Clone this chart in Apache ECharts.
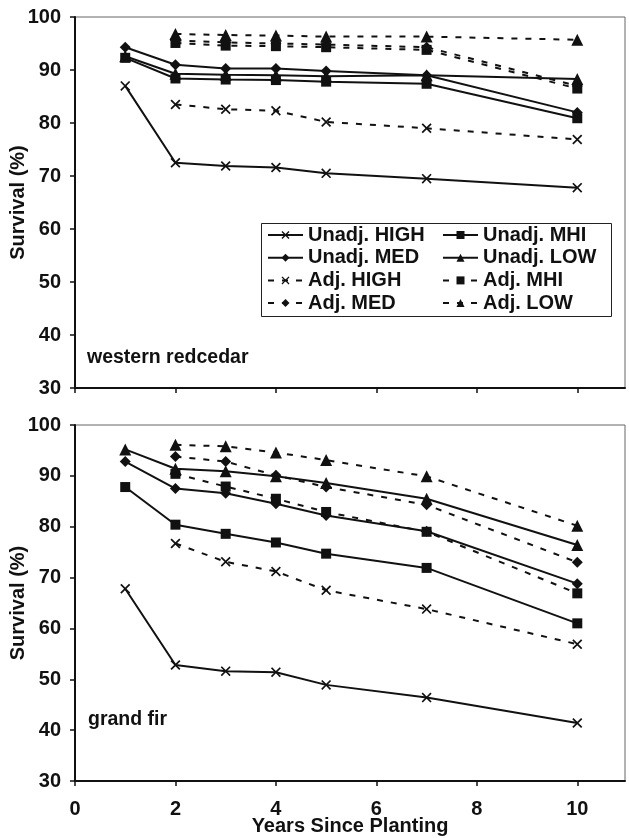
<!DOCTYPE html>
<html><head><meta charset="utf-8">
<script src="https://cdn.jsdelivr.net/npm/echarts@6/dist/echarts.min.js"></script>
<style>html,body{margin:0;padding:0;background:#fff}#c{width:629px;height:838px}</style>
</head><body><div id="c"></div>
<script>
const years = [1, 2, 3, 4, 5, 7, 10];
const adjYears = [2, 3, 4, 5, 7, 10];
const seriesNames = ['Unadj. HIGH','Unadj. MHI','Unadj. MED','Unadj. LOW','Adj. HIGH','Adj. MHI','Adj. MED','Adj. LOW'];
const yTicks = [30, 40, 50, 60, 70, 80, 90, 100];
const xTicks = [0, 2, 4, 6, 8, 10];
const panelTitles = ['western redcedar', 'grand fir'];

// western redcedar
const wrcUnadjHigh = [87.0, 72.5, 71.9, 71.6, 70.5, 69.5, 67.8];
const wrcUnadjMhi  = [92.3, 88.4, 88.2, 88.1, 87.8, 87.4, 80.9];
const wrcUnadjMed  = [94.3, 91.0, 90.3, 90.3, 89.8, 89.0, 82.0];
const wrcUnadjLow  = [92.6, 89.3, 89.1, 89.0, 88.8, 89.0, 88.3];
const wrcAdjHigh = [83.5, 82.6, 82.3, 80.2, 79.0, 76.9];
const wrcAdjMhi  = [95.1, 94.6, 94.5, 94.3, 93.8, 86.5];
const wrcAdjMed  = [95.6, 95.2, 95.0, 94.8, 94.3, 87.0];
const wrcAdjLow  = [96.8, 96.6, 96.5, 96.3, 96.3, 95.7];

// grand fir
const gfUnadjHigh = [67.8, 52.8, 51.6, 51.4, 48.9, 46.4, 41.4];
const gfUnadjMhi  = [87.8, 80.4, 78.6, 76.9, 74.7, 71.9, 61.0];
const gfUnadjMed  = [92.8, 87.5, 86.6, 84.5, 82.2, 79.1, 68.8];
const gfUnadjLow  = [95.2, 91.4, 90.9, 89.9, 88.6, 85.5, 76.4];
const gfAdjHigh = [76.7, 73.1, 71.2, 67.5, 63.8, 56.9];
const gfAdjMhi  = [90.4, 87.9, 85.5, 82.9, 79.0, 66.9];
const gfAdjMed  = [93.8, 92.8, 90.1, 87.8, 84.3, 73.0];
const gfAdjLow  = [96.1, 95.8, 94.6, 93.1, 89.9, 80.2];

const XSYM = 'path://M0,1.2L1.2,0L5,3.8L8.8,0L10,1.2L6.2,5L10,8.8L8.8,10L5,6.2L1.2,10L0,8.8L3.8,5Z';
const sym = {HIGH: XSYM, MHI: 'rect', MED: 'diamond', LOW: 'triangle'};
const symSize = {HIGH: 10, MHI: 10, MED: 11, LOW: 12};

function pair(xs, ys) { return xs.map((x, i) => [x, ys[i]]); }
function mk(name, xs, ys, idx) {
  const key = name.split(' ')[1];
  const adj = name.startsWith('Adj');
  return {
    name: name, type: 'line', xAxisIndex: idx, yAxisIndex: idx,
    data: pair(xs, ys), symbol: sym[key], symbolSize: symSize[key],
    showAllSymbol: true, animation: false,
    lineStyle: {color: '#111', width: 2, type: adj ? [6, 8] : 'solid'},
    itemStyle: {color: '#111'}
  };
}
const panels = [
  [wrcUnadjHigh, wrcUnadjMhi, wrcUnadjMed, wrcUnadjLow, wrcAdjHigh, wrcAdjMhi, wrcAdjMed, wrcAdjLow],
  [gfUnadjHigh, gfUnadjMhi, gfUnadjMed, gfUnadjLow, gfAdjHigh, gfAdjMhi, gfAdjMed, gfAdjLow]
];
const series = [];
panels.forEach((p, idx) => {
  seriesNames.forEach((n, i) => series.push(mk(n, i < 4 ? years : adjYears, p[i], idx)));
});

const FONT = 'Liberation Sans, Arial, sans-serif';
const grids = [
  {left: 75, top: 17, width: 550, height: 371},
  {left: 75, top: 425, width: 550, height: 356}
];
function xAx(idx) {
  return {
    type: 'value', gridIndex: idx, min: xTicks[0], max: 10.95, interval: 2,
    axisLine: {lineStyle: {color: '#111', width: 2}},
    axisTick: {length: 5, customValues: xTicks, lineStyle: {color: '#111', width: 1.5}},
    splitLine: {show: false},
    axisLabel: {show: idx === 1, customValues: xTicks, margin: 18, color: '#111', fontFamily: FONT, fontWeight: 'bold', fontSize: 20},
    name: idx === 1 ? 'Years Since Planting' : '', nameLocation: 'middle', nameGap: 35, nameMoveOverlap: false,
    nameTextStyle: {color: '#111', fontFamily: FONT, fontWeight: 'bold', fontSize: 20, verticalAlign: 'top'}
  };
}
function yAx(idx) {
  return {
    type: 'value', gridIndex: idx, min: yTicks[0], max: yTicks[yTicks.length - 1], interval: 10,
    axisLine: {show: true, lineStyle: {color: '#111', width: 2}},
    axisTick: {show: true, length: 5, lineStyle: {color: '#111', width: 1.5}},
    splitLine: {show: false},
    axisLabel: {margin: 14, color: '#111', fontFamily: FONT, fontWeight: 'bold', fontSize: 20},
    name: 'Survival (%)', nameLocation: 'middle', nameGap: 47, nameMoveOverlap: false,
    nameTextStyle: {color: '#111', fontFamily: FONT, fontWeight: 'bold', fontSize: 20}
  };
}
const legendText = {color: '#111', fontFamily: FONT, fontWeight: 'bold', fontSize: 20};
const option = {
  backgroundColor: '#fff',
  animation: false,
  grid: grids.map(g => Object.assign({show: true, borderColor: '#666', borderWidth: 1, containLabel: false, outerBoundsMode: 'none'}, g)),
  xAxis: [xAx(0), xAx(1)],
  yAxis: [yAx(0), yAx(1)],
  legend: [
    {left: 267, top: 225, orient: 'vertical', itemGap: 2.7, itemWidth: 35, itemHeight: 10, padding: 0,
     data: ['Unadj. HIGH', 'Unadj. MED', 'Adj. HIGH', 'Adj. MED'], textStyle: legendText, selectedMode: false},
    {left: 442, top: 225, orient: 'vertical', itemGap: 2.7, itemWidth: 35, itemHeight: 10, padding: 0,
     data: ['Unadj. MHI', 'Unadj. LOW', 'Adj. MHI', 'Adj. LOW'], textStyle: legendText, selectedMode: false}
  ],
  graphic: [
    {type: 'rect', left: 259, top: 221, shape: {width: 350, height: 93}, style: {fill: 'none', stroke: '#222', lineWidth: 1}, z: 100},
    {type: 'text', left: 87, top: 348, style: {text: panelTitles[0], fill: '#111', font: 'bold 19.5px ' + FONT}},
    {type: 'text', left: 88, top: 710, style: {text: panelTitles[1], fill: '#111', font: 'bold 19.5px ' + FONT}}
  ],
  series: series
};
echarts.init(document.getElementById('c'), null, {renderer: 'canvas'}).setOption(option);
</script></body></html>
